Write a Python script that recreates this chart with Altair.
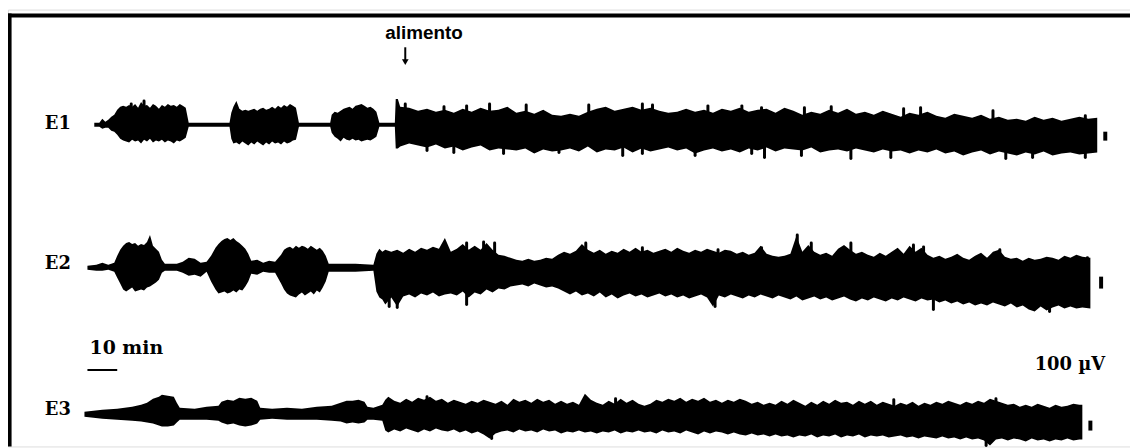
import altair as alt
import pandas as pd

# time in minutes (3 px per minute in the original figure), amplitude in microvolts
# each reading: (minute, envelope above baseline µV, envelope below baseline µV)
E1_BASE = 3240
E2_BASE = 1800
E3_BASE = 320

E1_READINGS = [
    (2.3, 20, 20), (4, 20, 20), (5, 60, 40), (6, 30, 30), (7, 50, 30), (8, 80, 60), (9, 100, 70),
    (10, 150, 100), (11, 180, 140), (12, 190, 160), (13, 180, 170), (14, 200, 180), (15, 180, 150),
    (16, 210, 170), (17, 170, 160), (18, 230, 190), (19, 190, 150), (20, 200, 170), (21, 170, 140),
    (22, 210, 180), (23, 190, 160), (24, 160, 170), (25, 200, 150), (26, 180, 180), (27, 210, 160),
    (28, 190, 170), (29, 200, 190), (30, 180, 160), (31, 210, 170), (32, 190, 150), (33, 170, 130),
    (34, 20, 20), (47.7, 20, 20),
    (48.3, 120, 140), (49, 180, 190), (50, 240, 180), (51, 160, 200), (52, 140, 170), (53, 150, 190),
    (54, 140, 210), (55, 150, 180), (56, 160, 200), (57, 140, 170), (58, 160, 190), (59, 170, 210),
    (60, 150, 180), (61, 160, 200), (62, 180, 170), (63, 160, 190), (64, 190, 180), (65, 170, 200),
    (66, 200, 170), (67, 180, 190), (68, 210, 180), (69, 190, 160), (70, 170, 150), (71, 20, 20),
    (81.5, 20, 20), (82, 100, 80), (83, 130, 120), (84, 120, 140), (85, 140, 170), (86, 160, 130),
    (87, 170, 150), (88, 180, 160), (89, 160, 140), (90, 190, 160), (91, 200, 150), (92, 210, 170),
    (93, 190, 160), (94, 170, 150), (95, 180, 160), (96, 160, 140), (97, 130, 120), (98, 20, 20),
    (103.2, 20, 20), (103.5, 260, 240), (104.2, 260, 240),
    (105, 180, 220), (108, 170, 190), (111, 140, 210), (114, 160, 230), (117, 130, 200), (120, 150, 240),
    (123, 120, 220), (126, 160, 260), (129, 130, 230), (132, 170, 210), (135, 140, 260), (138, 150, 240),
    (141, 180, 250), (144, 120, 260), (147, 140, 240), (150, 110, 290), (153, 150, 250), (156, 100, 270),
    (159, 90, 260), (162, 110, 240), (165, 90, 270), (168, 130, 220), (171, 160, 280), (174, 180, 250),
    (177, 140, 260), (180, 160, 230), (183, 180, 280), (186, 150, 240), (189, 170, 270), (192, 140, 250),
    (195, 120, 230), (198, 130, 260), (201, 160, 240), (204, 130, 290), (207, 150, 260), (210, 120, 240),
    (213, 160, 270), (216, 140, 250), (219, 170, 280), (222, 130, 240), (225, 150, 260), (228, 160, 230),
    (231, 120, 270), (234, 170, 240), (237, 140, 250), (240, 100, 260), (243, 130, 230), (246, 110, 280),
    (249, 150, 260), (252, 120, 250), (255, 160, 270), (258, 110, 240), (261, 130, 260), (264, 100, 280),
    (267, 140, 250), (270, 110, 270), (273, 80, 260), (276, 120, 290), (279, 100, 260), (282, 130, 280),
    (285, 90, 250), (288, 70, 290), (291, 110, 270), (294, 90, 310), (297, 70, 280), (300, 100, 260),
    (303, 60, 300), (306, 80, 270), (309, 50, 290), (312, 60, 310), (315, 40, 280), (318, 80, 300),
    (321, 50, 270), (324, 70, 310), (327, 40, 290), (330, 60, 280), (333, 80, 300), (336, 60, 290),
    (339, 70, 280),
]

E2_READINGS = [
    (0, 20, 20), (3, 30, 30), (5, 50, 30), (7, 30, 20), (9, 50, 40),
    (10, 120, 100), (11, 180, 160), (12, 220, 220), (13, 250, 240), (14, 260, 220), (15, 240, 200),
    (16, 250, 240), (17, 220, 230), (18, 240, 220), (19, 230, 230), (20, 260, 200), (21, 330, 190),
    (22, 220, 170), (23, 190, 150), (24, 160, 120), (25, 80, 50), (26, 40, 30), (30, 40, 30),
    (32, 60, 50), (34, 100, 80), (36, 90, 70), (38, 50, 90), (40, 60, 40),
    (41.5, 120, 140), (43, 200, 220), (44, 240, 260), (45, 270, 250), (46, 290, 240), (47, 300, 260),
    (48, 280, 250), (49, 300, 230), (50, 270, 250), (51, 250, 220), (52, 220, 230), (53, 190, 190),
    (54, 140, 140), (55, 70, 60), (57, 80, 70), (59, 50, 40), (61, 70, 50), (63, 60, 50),
    (65, 130, 160), (66, 180, 220), (67, 200, 260), (68, 210, 280), (69, 190, 290), (70, 220, 300),
    (71, 200, 270), (72, 220, 250), (73, 210, 280), (74, 190, 260), (75, 220, 240), (76, 200, 270),
    (77, 180, 230), (78, 200, 250), (79, 170, 200), (80, 120, 140), (81, 40, 40), (90, 40, 40),
    (96, 30, 30),
    (97, 140, 240), (98, 190, 300), (99, 160, 320), (100, 180, 370), (102, 160, 300), (104, 180, 390),
    (106, 150, 290), (108, 190, 270), (110, 160, 300), (112, 200, 260), (114, 180, 280), (116, 210, 250),
    (118, 190, 290), (120, 300, 270), (122, 160, 260), (124, 190, 280), (126, 240, 240), (128, 180, 300),
    (130, 220, 250), (132, 180, 270), (134, 250, 220), (136, 180, 250), (138, 130, 210), (140, 120, 220),
    (142, 100, 190), (144, 80, 180), (146, 70, 170), (148, 90, 190), (150, 70, 160), (152, 80, 180),
    (154, 100, 200), (156, 90, 190), (158, 130, 210), (160, 160, 240), (162, 140, 270), (164, 170, 240),
    (166, 240, 280), (168, 180, 260), (170, 150, 290), (172, 180, 250), (174, 140, 300), (176, 170, 270),
    (178, 150, 310), (180, 190, 280), (182, 160, 260), (184, 200, 290), (186, 160, 270), (188, 180, 300),
    (190, 150, 280), (192, 170, 260), (194, 190, 290), (196, 160, 270), (198, 200, 300), (200, 170, 280),
    (202, 150, 310), (204, 180, 290), (206, 160, 270), (208, 190, 300), (210, 170, 390), (212, 150, 280),
    (214, 180, 300), (216, 170, 270), (218, 140, 290), (220, 160, 310), (222, 130, 280), (224, 150, 300),
    (226, 220, 270), (228, 140, 290), (230, 120, 310), (232, 110, 280), (234, 120, 300), (236, 140, 320),
    (238, 320, 290), (240, 160, 330), (242, 230, 310), (244, 160, 290), (246, 130, 320), (248, 150, 300),
    (250, 120, 330), (252, 190, 310), (254, 230, 290), (256, 180, 320), (258, 140, 340), (260, 160, 310),
    (262, 130, 330), (264, 110, 300), (266, 150, 320), (268, 120, 340), (270, 160, 310), (272, 200, 330),
    (274, 140, 300), (276, 220, 320), (278, 160, 340), (280, 200, 310), (282, 130, 330), (284, 100, 320),
    (286, 120, 350), (288, 90, 330), (290, 110, 360), (292, 140, 340), (294, 100, 370), (296, 80, 350),
    (298, 120, 380), (300, 150, 360), (302, 100, 380), (304, 160, 350), (306, 180, 370), (308, 110, 390),
    (310, 90, 360), (312, 100, 400), (314, 70, 380), (316, 100, 420), (318, 80, 440), (320, 90, 390),
    (322, 110, 430), (324, 100, 400), (326, 80, 380), (328, 120, 410), (330, 100, 390), (332, 130, 410),
    (334, 110, 400), (336.7, 100, 410),
]

E3_READINGS = [
    (-1, 30, 20), (2, 40, 30), (5, 50, 40), (10, 60, 50), (15, 80, 60), (18, 100, 70), (20, 120, 80),
    (22, 160, 90), (24, 180, 110), (25, 200, 120), (27, 190, 120), (29, 180, 110), (30, 120, 80),
    (31, 70, 50), (36, 60, 50), (40, 80, 50), (44, 90, 60), (45, 130, 80), (47, 150, 100), (49, 140, 90),
    (51, 170, 110), (53, 160, 120), (55, 170, 110), (57, 140, 90), (58, 70, 50), (62, 60, 40),
    (67, 70, 50), (72, 60, 50), (77, 80, 50), (82, 90, 60), (85, 120, 70), (87, 140, 90), (89, 140, 80),
    (91, 150, 90), (93, 130, 80), (94, 80, 50), (96, 70, 50), (99, 100, 60),
    (100, 150, 160), (101, 180, 180), (103, 140, 150), (105, 120, 170), (107, 160, 140), (109, 130, 160),
    (111, 170, 180), (113, 150, 150), (115, 180, 170), (117, 140, 140), (119, 160, 160), (121, 120, 170),
    (123, 150, 150), (125, 130, 180), (127, 110, 160), (129, 140, 190), (131, 120, 170), (133, 150, 200),
    (135, 130, 240), (137, 110, 190), (139, 140, 170), (141, 100, 160), (143, 160, 180), (145, 130, 150),
    (147, 150, 170), (149, 120, 160), (151, 160, 180), (153, 130, 150), (155, 150, 170), (157, 110, 160),
    (159, 140, 190), (161, 110, 170), (163, 130, 180), (165, 100, 160), (167, 210, 180), (169, 150, 170),
    (171, 120, 190), (173, 100, 170), (175, 140, 180), (177, 110, 160), (179, 160, 190), (181, 120, 170),
    (183, 150, 180), (185, 110, 160), (187, 90, 180), (189, 110, 170), (191, 150, 190), (193, 130, 160),
    (195, 160, 180), (197, 140, 170), (199, 170, 190), (201, 130, 160), (203, 160, 180), (205, 140, 200),
    (207, 170, 170), (209, 130, 190), (211, 150, 170), (213, 120, 180), (215, 150, 200), (217, 130, 180),
    (219, 160, 200), (221, 140, 210), (223, 110, 190), (225, 130, 210), (227, 100, 200), (229, 120, 220),
    (231, 100, 200), (233, 140, 220), (235, 110, 210), (237, 150, 230), (239, 120, 210), (241, 90, 220),
    (243, 130, 200), (245, 100, 230), (247, 140, 210), (249, 110, 220), (251, 150, 200), (253, 120, 230),
    (255, 130, 210), (257, 100, 220), (259, 140, 200), (261, 110, 230), (263, 140, 210), (265, 100, 220),
    (267, 130, 210), (269, 110, 230), (271, 90, 220), (273, 120, 210), (275, 100, 230), (277, 130, 220),
    (279, 90, 240), (281, 120, 220), (283, 100, 230), (285, 130, 240), (287, 110, 220), (289, 140, 240),
    (291, 120, 230), (293, 100, 250), (295, 130, 230), (297, 110, 250), (299, 140, 240), (301, 120, 260),
    (303, 160, 310), (305, 140, 250), (307, 120, 240), (309, 100, 260), (311, 110, 240), (313, 80, 250),
    (315, 100, 270), (317, 80, 240), (319, 110, 260), (321, 90, 250), (323, 70, 270), (325, 100, 250),
    (327, 80, 260), (329, 90, 240), (331, 110, 260), (333, 100, 250), (334, 100, 250),
]

# isolated spikes sticking out of the envelopes: (minute, tip µV relative to baseline; + up, - down)
E1_SPIKES = [
    (14.7, 210), (19, 240), (106.7, 210), (119.7, 180), (127.3, 190), (135, 210), (147.3, 200),
    (168.3, 200), (186.3, 210), (189.7, 200), (208.3, 190), (219.7, 190), (226.3, 170), (240.7, 170),
    (249.7, 180), (274, 160), (279.7, 170), (304, 140), (335, 90),
    (114, -260), (123, -280), (139.7, -290), (158.3, -280), (179.7, -310), (186.3, -290), (204, -310),
    (223, -290), (227.3, -330), (239.7, -310), (256.3, -340), (269.7, -330), (308.3, -340),
    (317.3, -330), (335, -330),
]
E2_SPIKES = [
    (127.3, 250), (133, 260), (136.7, 250), (167.3, 250), (186.3, 200), (211.7, 180), (226.3, 200),
    (238.3, 330), (243, 250), (256.3, 250), (277.3, 230), (280.7, 210), (306.3, 180), (335.7, 100),
    (101.3, -390), (104, -400), (127.3, -370), (210.7, -390), (284, -420), (323, -440),
]
E3_SPIKES = [
    (114, 180), (177.3, 160), (270.7, 150), (305, 160),
    (135.7, -240), (301.7, -310),
]

TRACE_NAMES = ["E1", "E2", "E3"]
TRACE_BASES = [E1_BASE, E2_BASE, E3_BASE]
TRACE_READINGS = [E1_READINGS, E2_READINGS, E3_READINGS]
TRACE_SPIKES = [E1_SPIKES, E2_SPIKES, E3_SPIKES]

# calibration marks (100 µV) at the end of each trace: minute, top µV, bottom µV
CAL_T = [341.7, 340.3, 336.7]
CAL_TOP = [3170, 1710, 260]
CAL_BOT = [3080, 1590, 160]

LABEL_T = -14.3
LABEL_Y = [3250, 1840, 370]

FOOD_T = 106.7   # "alimento" arrow

X_DOMAIN = [-80 / 3, 350]
Y_DOMAIN = [0, 4400]

rows = []
for name, base, readings in zip(TRACE_NAMES, TRACE_BASES, TRACE_READINGS):
    for t, up, dn in readings:
        rows.append({"trace": name, "t": t, "hi": base + up, "lo": base - dn})
traces = pd.DataFrame(rows)

spk = []
for name, base, spikes in zip(TRACE_NAMES, TRACE_BASES, TRACE_SPIKES):
    for t, tip in spikes:
        spk.append({"trace": name, "t": t, "a": base, "b": base + tip})
spikes_df = pd.DataFrame(spk)

xs = alt.Scale(domain=X_DOMAIN, nice=False, zero=False)
ys = alt.Scale(domain=Y_DOMAIN, nice=False, zero=False)

area = alt.Chart(traces).mark_area(color="black", interpolate="linear", opacity=1).encode(
    x=alt.X("t:Q", scale=xs, axis=None),
    y=alt.Y("hi:Q", scale=ys, axis=None),
    y2="lo:Q",
    detail="trace:N",
)

spike_rules = alt.Chart(spikes_df).mark_rule(color="black", strokeWidth=3, strokeCap="round").encode(
    x=alt.X("t:Q", scale=xs, axis=None), y=alt.Y("a:Q", scale=ys, axis=None), y2="b:Q")

cal = alt.Chart(pd.DataFrame({"t": CAL_T, "a": CAL_TOP, "b": CAL_BOT})).mark_rule(
    color="black", strokeWidth=4).encode(
    x=alt.X("t:Q", scale=xs, axis=None), y=alt.Y("a:Q", scale=ys, axis=None), y2="b:Q")

labels = alt.Chart(pd.DataFrame({"t": [LABEL_T] * 3, "y": LABEL_Y, "txt": TRACE_NAMES})).mark_text(
    font="DejaVu Serif", fontWeight="bold", fontSize=18, align="left", baseline="middle", color="black"
).encode(x=alt.X("t:Q", scale=xs, axis=None), y=alt.Y("y:Q", scale=ys, axis=None), text="txt:N")

notes = alt.Chart(pd.DataFrame({"t": [0.7, 318], "y": [990, 820], "txt": ["10 min", "100 \u00b5V"],
                                "fs": [19, 18]})).mark_text(
    font="DejaVu Serif", fontWeight="bold", align="left", baseline="middle", color="black"
).encode(x=alt.X("t:Q", scale=xs, axis=None), y=alt.Y("y:Q", scale=ys, axis=None), text="txt:N",
         size=alt.Size("fs:Q", scale=None, legend=None))

food = alt.Chart(pd.DataFrame({"t": [113], "y": [4160], "txt": ["alimento"]})).mark_text(
    font="Liberation Sans", fontWeight="bold", fontSize=19, align="center", baseline="middle", color="black"
).encode(x=alt.X("t:Q", scale=xs, axis=None), y=alt.Y("y:Q", scale=ys, axis=None), text="txt:N")

arrow_stem = alt.Chart(pd.DataFrame({"t": [FOOD_T], "a": [4020], "b": [3890]})).mark_rule(
    color="black", strokeWidth=2).encode(
    x=alt.X("t:Q", scale=xs, axis=None), y=alt.Y("a:Q", scale=ys, axis=None), y2="b:Q")

arrow_head = alt.Chart(pd.DataFrame({"t": [FOOD_T], "y": [3870]})).mark_point(
    shape="triangle-down", filled=True, color="black", size=45, opacity=1).encode(
    x=alt.X("t:Q", scale=xs, axis=None), y=alt.Y("y:Q", scale=ys, axis=None))

scale_bar = alt.Chart(pd.DataFrame({"a": [0], "b": [10], "y": [770]})).mark_rule(
    color="black", strokeWidth=2).encode(
    x=alt.X("a:Q", scale=xs, axis=None), x2="b:Q", y=alt.Y("y:Q", scale=ys, axis=None))

# frame (top and left border) drawn as filled rectangles
frame = alt.Chart(pd.DataFrame({
    "x1": [X_DOMAIN[0], X_DOMAIN[0]], "x2": [X_DOMAIN[1], X_DOMAIN[0] + 1.2],
    "y1": [4320, 0], "y2": [4360, 4360]})).mark_rect(color="black", opacity=1).encode(
    x=alt.X("x1:Q", scale=xs, axis=None), x2="x2:Q",
    y=alt.Y("y1:Q", scale=ys, axis=None), y2="y2:Q")

chart = alt.layer(
    frame, area, spike_rules, cal, labels, notes, food, arrow_stem, arrow_head, scale_bar
).properties(
    width=1130, height=440, padding=0,
    autosize=alt.AutoSizeParams(type="none"),
).configure_view(stroke=None).configure(background="white")

chart.save("out.html", embed_options={"renderer": "svg", "actions": False})
